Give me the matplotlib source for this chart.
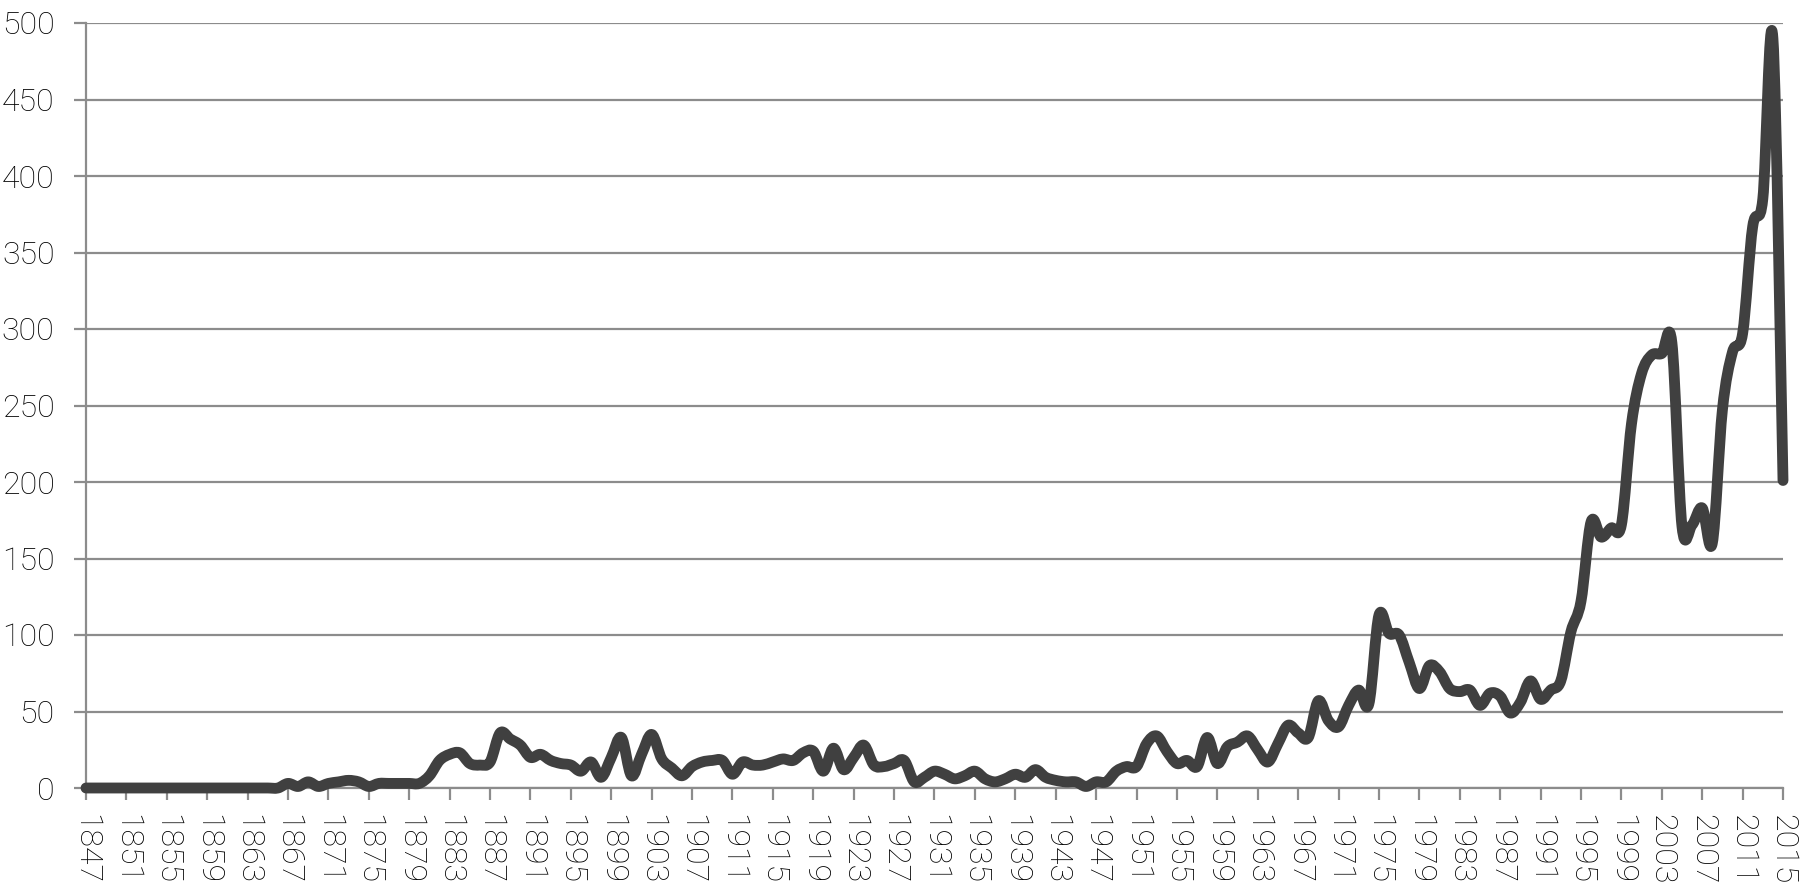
import numpy as np
import matplotlib
matplotlib.use("Agg")
import matplotlib.pyplot as plt
from matplotlib.path import Path
from matplotlib.patches import PathPatch

# ---------------- data ----------------
years = list(range(1847, 2016))
values = (
    [0] * 20 +                                   # 1847-1866
    [3, 1, 4, 1, 3, 4, 5, 4, 1, 3,               # 1867-1876
     3, 3, 3, 3, 8, 18, 22, 23, 16, 15,          # 1877-1886
     17, 36, 32, 28, 20, 22, 18, 16, 15, 11,     # 1887-1896
     17, 7, 20, 33, 8, 22, 35, 19, 13, 8,        # 1897-1906
     14, 17, 18, 18, 9, 17, 15, 15, 17, 19,      # 1907-1916
     18, 23, 24, 11, 26, 12, 20, 28, 15, 14,     # 1917-1926
     16, 18, 4, 7, 11, 9, 6, 8, 11, 6,           # 1927-1936
     4, 6, 9, 7, 12, 7, 5, 4, 4, 1,              # 1937-1946
     4, 4, 11, 14, 14, 29, 34, 24, 16, 18,       # 1947-1956
     14, 33, 16, 27, 30, 34, 25, 17, 29, 41,     # 1957-1966
     36, 33, 57, 44, 40, 54, 64, 55, 113, 101,   # 1967-1976
     100, 82, 65, 80, 76, 65, 63, 64, 54, 62,    # 1977-1986
     60, 49, 56, 70, 58, 64, 70, 102, 122, 174,  # 1987-1996
     164, 170, 172, 238, 271, 283, 284, 291, 171, 172,  # 1997-2006
     183, 160, 247, 285, 297, 367, 385, 490, 201]        # 2007-2015
)
tick_years = years[::4]
y_ticks = list(range(0, 501, 50))

# ---------------- style ----------------
GRID = "#8c8c8c"
LINE = "#404040"
plt.rcParams["font.family"] = ["Roboto", "DejaVu Sans"]

fig = plt.figure(figsize=(18, 8.91), dpi=100)
ax = fig.add_axes([86 / 1800, 1 - 788 / 891, (1783 - 86) / 1800, (788 - 23) / 891])

ax.set_xlim(years[0], years[-1])
ax.set_ylim(0, 500)

# smoothed line (Excel-like smoothing via cubic Bezier segments)
x = np.asarray(years, float)
y = np.asarray(values, float)
xp = np.concatenate([[x[0]], x, [x[-1]]])
yp = np.concatenate([[y[0]], y, [y[-1]]])
verts = [(x[0], y[0])]
codes = [Path.MOVETO]
for i in range(len(x) - 1):
    p0 = np.array([xp[i], yp[i]])
    p1 = np.array([xp[i + 1], yp[i + 1]])
    p2 = np.array([xp[i + 2], yp[i + 2]])
    p3 = np.array([xp[i + 3], yp[i + 3]])
    c1 = p1 + (p2 - p0) / 6.0
    c2 = p2 - (p3 - p1) / 6.0
    verts += [tuple(c1), tuple(c2), tuple(p2)]
    codes += [Path.CURVE4] * 3
patch = PathPatch(Path(verts, codes), facecolor="none", edgecolor=LINE,
                  lw=7.8, capstyle="round", joinstyle="round", clip_on=False, zorder=3)
ax.add_patch(patch)

# grid
ax.set_yticks(y_ticks)
ax.yaxis.grid(True, color=GRID, linewidth=1.6)
ax.set_axisbelow(True)

ax.set_xticks(tick_years)
ax.set_xticklabels([str(t) for t in tick_years], rotation=-90)

for s in ["top", "right"]:
    ax.spines[s].set_visible(False)
for s in ["left", "bottom"]:
    ax.spines[s].set_color(GRID)
    ax.spines[s].set_linewidth(1.6)

ax.tick_params(axis="y", length=8.6, width=1.6, color=GRID, pad=14,
               labelsize=23, labelcolor="black")
ax.tick_params(axis="x", length=8.6, width=1.6, color=GRID, pad=10,
               labelsize=23, labelcolor="black")
for lab in ax.get_xticklabels() + ax.get_yticklabels():
    lab.set_fontweight("light")

fig.savefig("out.png", dpi=100, facecolor="white")
